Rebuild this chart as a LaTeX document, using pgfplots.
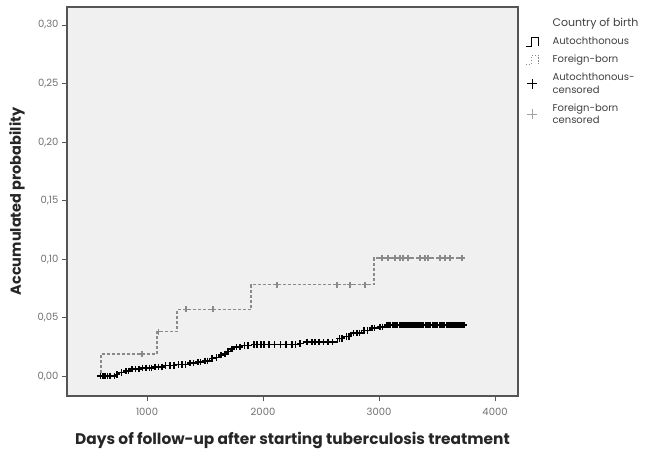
\documentclass[border=0pt]{standalone}
\usepackage{pgfplots}
\pgfplotsset{compat=1.18}
\usepackage{fontspec}
\setmainfont{Poppins}
\definecolor{panel}{HTML}{F0F0F0}
\definecolor{frame}{HTML}{555555}
\definecolor{auto}{HTML}{4A4A4A}
\definecolor{foreign}{HTML}{8A8A8A}
\definecolor{ticktxt}{HTML}{707070}
\begin{document}
\begin{tikzpicture}[x=1pt,y=1pt]
\useasboundingbox (0,0) rectangle (654,449);
\begin{axis}[
  at={(67pt,53pt)}, anchor=south west,
  scale only axis, width=451pt, height=389pt,
  xmin=310, xmax=4198, ymin=-0.017, ymax=0.3154,
  axis background/.style={fill=panel},
  axis line style={frame, line width=1.4pt},
  xtick={1000,2000,3000,4000},
  ytick={0,0.05,0.10,0.15,0.20,0.25,0.30},
  tick align=outside, tick pos=left,
  major tick length=5pt,
  tick style={frame, line width=0.9pt},
  /pgf/number format/assume math mode=true,
  xticklabel style={/pgf/number format/1000 sep={}, font=\fontsize{10}{12}\selectfont, text=ticktxt, yshift=-4pt},
  yticklabel style={/pgf/number format/.cd, fixed, fixed zerofill, precision=2, use comma, /tikz/.cd, font=\fontsize{10}{12}\selectfont, text=ticktxt},
  xlabel={\bfseries Days of follow-up after starting tuberculosis treatment},
  ylabel={\bfseries Accumulated probability},
  label style={text=black!85},
  xlabel style={font=\fontsize{15.4}{17}\selectfont, yshift=-9pt},
  ylabel style={font=\fontsize{14.5}{16}\selectfont, yshift=6pt},
  legend style={at={(1,1)}, anchor=north west, xshift=4pt, yshift=-7.5pt, draw=none, fill=none,
    font=\fontsize{10}{12.5}\selectfont, text=black!75, nodes={align=left, inner sep=1.5pt},
    row sep=6pt, /tikz/every odd column/.append style={column sep=12pt}},
  legend cell align=left,
]
% Foreign-born step curve
\addplot[const plot, foreign, line width=1.3pt, dash pattern=on 3pt off 2pt, forget plot] coordinates {
(590,0) (603,0.019) (1086,0.038) (1259,0.057) (1897,0.078) (2957,0.101) (3720,0.101)};
% Autochthonous step curve
\addplot[const plot, auto, line width=1.5pt, forget plot] coordinates {
(570,0) (724,0.0015) (760,0.003) (800,0.0045) (850,0.006) (950,0.007) (1050,0.008) (1150,0.009)
(1250,0.010) (1350,0.011) (1420,0.012) (1480,0.013) (1540,0.015) (1590,0.016) (1620,0.018)
(1660,0.019) (1690,0.021) (1720,0.023) (1750,0.025) (1820,0.026) (1900,0.027) (2300,0.028)
(2350,0.029) (2640,0.032) (2700,0.034) (2760,0.037) (2850,0.039) (2920,0.041) (2990,0.042)
(3060,0.0435) (3740,0.0435)};
% Autochthonous censored
\addplot[only marks, mark=+, mark size=3.2pt, auto, line width=1.6pt, forget plot] coordinates {
(600,0) (620,0) (640,0) (660,0) (680,0) (720,0) (740,0.0015) (780,0.003) (820,0.0045) (840,0.0045)
(870,0.006) (900,0.006) (930,0.006) (960,0.007) (990,0.007) (1020,0.007) (1040,0.007)
(1070,0.008) (1100,0.008) (1130,0.008) (1160,0.009) (1200,0.009) (1230,0.009)
(1270,0.010) (1300,0.010) (1330,0.010) (1370,0.011) (1400,0.011) (1440,0.012) (1460,0.012)
(1500,0.013) (1520,0.013) (1560,0.015) (1600,0.016) (1640,0.018) (1670,0.019) (1700,0.021)
(1730,0.023) (1770,0.025) (1800,0.025) (1840,0.026) (1870,0.026) (1920,0.027) (1950,0.027)
(1980,0.027) (2010,0.027) (2050,0.027) (2100,0.027) (2150,0.027) (2200,0.027) (2250,0.027)
(2280,0.027) (2320,0.028) (2380,0.029) (2420,0.029) (2450,0.029) (2480,0.029) (2520,0.029)
(2560,0.029) (2600,0.029) (2660,0.032) (2680,0.032) (2720,0.034) (2740,0.034) (2780,0.037)
(2810,0.037) (2830,0.037) (2870,0.039) (2900,0.039) (2940,0.041) (2960,0.041) (3010,0.042)
(3030,0.042) (3070,0.0435) (3085,0.0435) (3100,0.0435) (3115,0.0435) (3130,0.0435) (3145,0.0435)
(3160,0.0435) (3175,0.0435) (3190,0.0435) (3205,0.0435) (3220,0.0435) (3235,0.0435) (3250,0.0435)
(3265,0.0435) (3280,0.0435) (3295,0.0435) (3310,0.0435) (3325,0.0435) (3340,0.0435) (3355,0.0435)
(3370,0.0435) (3385,0.0435) (3400,0.0435) (3415,0.0435) (3430,0.0435) (3445,0.0435) (3460,0.0435)
(3475,0.0435) (3490,0.0435) (3505,0.0435) (3520,0.0435) (3535,0.0435) (3550,0.0435) (3565,0.0435)
(3580,0.0435) (3595,0.0435) (3610,0.0435) (3625,0.0435) (3640,0.0435) (3655,0.0435) (3670,0.0435)
(3685,0.0435) (3700,0.0435) (3715,0.0435) (3730,0.0435)};
% Foreign-born censored
\addplot[only marks, mark=+, mark size=3pt, foreign, line width=1.3pt, forget plot] coordinates {
(957,0.019) (1100,0.038) (1336,0.057) (1569,0.057) (2121,0.078) (2638,0.078) (2750,0.078)
(2879,0.078) (3026,0.101) (3078,0.101) (3138,0.101) (3181,0.101) (3207,0.101) (3250,0.101)
(3353,0.101) (3397,0.101) (3422,0.101) (3526,0.101) (3569,0.101) (3612,0.101) (3716,0.101)};
% Legend
\addlegendimage{empty legend}
\addlegendentry{\fontsize{11}{13}\selectfont Country of birth}
\addlegendimage{legend image code/.code={\draw[auto, line width=0.9pt] (0pt,-4.5pt) -- (6pt,-4.5pt) -- (6pt,4.5pt) -- (13pt,4.5pt) -- (13pt,-4.5pt);}}
\addlegendentry{Autochthonous}
\addlegendimage{legend image code/.code={\draw[foreign, line width=0.9pt, dash pattern=on 1.5pt off 1.5pt] (0pt,-4.5pt) -- (6pt,-4.5pt) -- (6pt,4.5pt) -- (13pt,4.5pt) -- (13pt,-4.5pt);}}
\addlegendentry{Foreign-born}
\addlegendimage{legend image code/.code={\draw[auto, line width=0.9pt] (6.5pt,-5pt) -- (6.5pt,5pt) (1.5pt,0pt) -- (11.5pt,0pt);}}
\addlegendentry{Autochthonous-\\censored}
\addlegendimage{legend image code/.code={\draw[foreign!80, line width=0.9pt] (6.5pt,-5pt) -- (6.5pt,5pt) (1.5pt,0pt) -- (11.5pt,0pt);}}
\addlegendentry{Foreign-born\\censored}
\end{axis}
\end{tikzpicture}
\end{document}
